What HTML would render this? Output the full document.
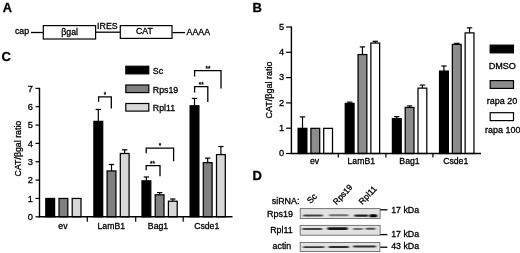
<!DOCTYPE html>
<html><head><meta charset="utf-8"><title>Figure</title>
<style>
html,body{margin:0;padding:0;background:#fff;}
body{width:520px;height:253px;overflow:hidden;}
svg{display:block;font-family:"Liberation Sans", Arial, sans-serif;filter:blur(0.4px);}
svg text{fill:#000;stroke:#000;stroke-width:0.3px;}
</style></head><body>
<svg width="520" height="253" viewBox="0 0 520 253">
<defs><filter id="bl" x="-20%" y="-150%" width="140%" height="400%"><feGaussianBlur stdDeviation="1 0.55"/></filter></defs>
<rect x="0" y="0" width="520" height="253" fill="#fff" stroke="none"/>
<text x="2.7" y="12.3" font-size="12.8" text-anchor="start" font-weight="bold" >A</text>
<text x="15" y="33.9" font-size="8.7" text-anchor="start" font-weight="normal" >cap</text>
<line x1="31" y1="32.5" x2="43" y2="32.5" stroke="#000" stroke-width="1.3"/>
<rect x="43.3" y="25.6" width="52.3" height="13.4" fill="#fff" stroke="#000" stroke-width="1.2"/>
<text x="69.6" y="35.4" font-size="8.7" text-anchor="middle" font-weight="normal" >βgal</text>
<text x="97.1" y="29.4" font-size="8.8" text-anchor="start" font-weight="normal" >IRES</text>
<line x1="95.6" y1="32.2" x2="120" y2="32.2" stroke="#000" stroke-width="1.3"/>
<rect x="120.3" y="25.6" width="51.7" height="12.8" fill="#fff" stroke="#000" stroke-width="1.2"/>
<text x="144.4" y="34.4" font-size="8.7" text-anchor="middle" font-weight="normal" >CAT</text>
<line x1="172.5" y1="32.6" x2="185" y2="32.6" stroke="#000" stroke-width="1.3"/>
<text x="186.6" y="34.6" font-size="8.8" text-anchor="start" font-weight="normal" >AAAA</text>
<text x="252.4" y="12.0" font-size="13" text-anchor="start" font-weight="bold" >B</text>
<text x="1.6" y="60.7" font-size="13" text-anchor="start" font-weight="bold" >C</text>
<text x="252.4" y="179.7" font-size="13" text-anchor="start" font-weight="bold" >D</text>
<rect x="45.8" y="198.45" width="8.8" height="18.35" fill="#000" stroke="#000" stroke-width="1.25"/>
<rect x="59.0" y="198.45" width="8.8" height="18.35" fill="#808080" stroke="#000" stroke-width="1.25"/>
<rect x="72.2" y="198.45" width="8.8" height="18.35" fill="#d8d8d8" stroke="#000" stroke-width="1.25"/>
<line x1="98.3" y1="121.38" x2="98.3" y2="109.45" stroke="#000" stroke-width="1.2"/>
<line x1="95.6" y1="109.45" x2="101.0" y2="109.45" stroke="#000" stroke-width="1.2"/>
<rect x="93.9" y="121.38" width="8.8" height="95.42" fill="#000" stroke="#000" stroke-width="1.25"/>
<line x1="111.5" y1="170.93" x2="111.5" y2="164.5" stroke="#000" stroke-width="1.2"/>
<line x1="108.8" y1="164.5" x2="114.2" y2="164.5" stroke="#000" stroke-width="1.2"/>
<rect x="107.1" y="170.93" width="8.8" height="45.88" fill="#808080" stroke="#000" stroke-width="1.25"/>
<line x1="124.7" y1="153.49" x2="124.7" y2="149.82" stroke="#000" stroke-width="1.2"/>
<line x1="122.0" y1="149.82" x2="127.4" y2="149.82" stroke="#000" stroke-width="1.2"/>
<rect x="120.3" y="153.49" width="8.8" height="63.31" fill="#d8d8d8" stroke="#000" stroke-width="1.25"/>
<line x1="146.4" y1="180.83" x2="146.4" y2="176.98" stroke="#000" stroke-width="1.2"/>
<line x1="143.7" y1="176.98" x2="149.1" y2="176.98" stroke="#000" stroke-width="1.2"/>
<rect x="142.0" y="180.83" width="8.8" height="35.97" fill="#000" stroke="#000" stroke-width="1.25"/>
<line x1="159.6" y1="194.78" x2="159.6" y2="192.58" stroke="#000" stroke-width="1.2"/>
<line x1="156.9" y1="192.58" x2="162.3" y2="192.58" stroke="#000" stroke-width="1.2"/>
<rect x="155.2" y="194.78" width="8.8" height="22.02" fill="#808080" stroke="#000" stroke-width="1.25"/>
<line x1="172.8" y1="201.2" x2="172.8" y2="199.0" stroke="#000" stroke-width="1.2"/>
<line x1="170.1" y1="199.0" x2="175.5" y2="199.0" stroke="#000" stroke-width="1.2"/>
<rect x="168.4" y="201.2" width="8.8" height="15.6" fill="#d8d8d8" stroke="#000" stroke-width="1.25"/>
<line x1="194.5" y1="105.78" x2="194.5" y2="98.44" stroke="#000" stroke-width="1.2"/>
<line x1="191.8" y1="98.44" x2="197.2" y2="98.44" stroke="#000" stroke-width="1.2"/>
<rect x="190.1" y="105.78" width="8.8" height="111.02" fill="#000" stroke="#000" stroke-width="1.25"/>
<line x1="207.7" y1="162.67" x2="207.7" y2="158.08" stroke="#000" stroke-width="1.2"/>
<line x1="205.0" y1="158.08" x2="210.4" y2="158.08" stroke="#000" stroke-width="1.2"/>
<rect x="203.3" y="162.67" width="8.8" height="54.13" fill="#808080" stroke="#000" stroke-width="1.25"/>
<line x1="220.9" y1="154.59" x2="220.9" y2="146.52" stroke="#000" stroke-width="1.2"/>
<line x1="218.2" y1="146.52" x2="223.6" y2="146.52" stroke="#000" stroke-width="1.2"/>
<rect x="216.5" y="154.59" width="8.8" height="62.21" fill="#d8d8d8" stroke="#000" stroke-width="1.25"/>
<line x1="39.5" y1="87.85" x2="39.5" y2="217.4" stroke="#000" stroke-width="1.4"/>
<line x1="38.9" y1="216.8" x2="232.5" y2="216.8" stroke="#000" stroke-width="1.4"/>
<line x1="35.5" y1="216.8" x2="39.5" y2="216.8" stroke="#000" stroke-width="1.2"/>
<text x="32.9" y="220.1" font-size="9.3" text-anchor="end" font-weight="normal" >0</text>
<line x1="35.5" y1="198.45" x2="39.5" y2="198.45" stroke="#000" stroke-width="1.2"/>
<text x="32.9" y="201.75" font-size="9.3" text-anchor="end" font-weight="normal" >1</text>
<line x1="35.5" y1="180.1" x2="39.5" y2="180.1" stroke="#000" stroke-width="1.2"/>
<text x="32.9" y="183.4" font-size="9.3" text-anchor="end" font-weight="normal" >2</text>
<line x1="35.5" y1="161.75" x2="39.5" y2="161.75" stroke="#000" stroke-width="1.2"/>
<text x="32.9" y="165.05" font-size="9.3" text-anchor="end" font-weight="normal" >3</text>
<line x1="35.5" y1="143.4" x2="39.5" y2="143.4" stroke="#000" stroke-width="1.2"/>
<text x="32.9" y="146.7" font-size="9.3" text-anchor="end" font-weight="normal" >4</text>
<line x1="35.5" y1="125.05" x2="39.5" y2="125.05" stroke="#000" stroke-width="1.2"/>
<text x="32.9" y="128.35" font-size="9.3" text-anchor="end" font-weight="normal" >5</text>
<line x1="35.5" y1="106.7" x2="39.5" y2="106.7" stroke="#000" stroke-width="1.2"/>
<text x="32.9" y="110.0" font-size="9.3" text-anchor="end" font-weight="normal" >6</text>
<line x1="35.5" y1="88.35" x2="39.5" y2="88.35" stroke="#000" stroke-width="1.2"/>
<text x="32.9" y="91.65" font-size="9.3" text-anchor="end" font-weight="normal" >7</text>
<line x1="87.3" y1="216.8" x2="87.3" y2="221.8" stroke="#000" stroke-width="1.2"/>
<line x1="135.7" y1="216.8" x2="135.7" y2="221.8" stroke="#000" stroke-width="1.2"/>
<line x1="183.2" y1="216.8" x2="183.2" y2="221.8" stroke="#000" stroke-width="1.2"/>
<text x="62.9" y="228.7" font-size="8.7" text-anchor="middle" font-weight="normal" >ev</text>
<text x="111.3" y="228.7" font-size="8.7" text-anchor="middle" font-weight="normal" >LamB1</text>
<text x="158" y="228.7" font-size="8.7" text-anchor="middle" font-weight="normal" >Bag1</text>
<text x="206.7" y="228.7" font-size="8.7" text-anchor="middle" font-weight="normal" >Csde1</text>
<text transform="translate(21.2,148.6) rotate(-90)" font-size="8.8" text-anchor="middle">CAT/βgal ratio</text>
<rect x="125.8" y="66.2" width="23" height="7.7" fill="#000" stroke="#000" stroke-width="1.1"/>
<text x="152.8" y="73.7" font-size="8.8" text-anchor="start" font-weight="normal" >Sc</text>
<rect x="125.8" y="85.0" width="23" height="7.6" fill="#808080" stroke="#000" stroke-width="1.2"/>
<text x="152.8" y="92.6" font-size="8.8" text-anchor="start" font-weight="normal" >Rps19</text>
<rect x="125.8" y="103.5" width="23" height="7.6" fill="#d8d8d8" stroke="#000" stroke-width="1.2"/>
<text x="152.8" y="111.1" font-size="8.8" text-anchor="start" font-weight="normal" >Rpl11</text>
<polyline points="98.6,101.7 98.6,96.9 111.3,96.9 111.3,108.5" fill="none" stroke="#000" stroke-width="1.3"/>
<text x="105" y="97.2" font-size="6.3" text-anchor="middle" font-weight="normal" >*</text>
<polyline points="194.6,76.4 194.6,70.7 221,70.7 221,88.6" fill="none" stroke="#000" stroke-width="1.3"/>
<text x="207.9" y="71.0" font-size="6.3" text-anchor="middle" font-weight="normal" >**</text>
<polyline points="194.6,92.4 194.6,86.6 207.8,86.6 207.8,102" fill="none" stroke="#000" stroke-width="1.3"/>
<text x="201.2" y="87.0" font-size="6.3" text-anchor="middle" font-weight="normal" >**</text>
<polyline points="146.2,153.2 146.2,148.1 173.6,148.1 173.6,161.3" fill="none" stroke="#000" stroke-width="1.3"/>
<text x="160" y="148.4" font-size="6.3" text-anchor="middle" font-weight="normal" >*</text>
<polyline points="146.2,170.3 146.2,165.7 160,165.7 160,176.3" fill="none" stroke="#000" stroke-width="1.3"/>
<text x="152.5" y="166.0" font-size="6.3" text-anchor="middle" font-weight="normal" >**</text>
<line x1="302.5" y1="128.35" x2="302.5" y2="116.9" stroke="#000" stroke-width="1.2"/>
<line x1="299.8" y1="116.9" x2="305.2" y2="116.9" stroke="#000" stroke-width="1.2"/>
<rect x="298.1" y="128.35" width="8.8" height="25.15" fill="#000" stroke="#000" stroke-width="1.25"/>
<rect x="310.9" y="128.35" width="8.8" height="25.15" fill="#8c8c8c" stroke="#000" stroke-width="1.25"/>
<rect x="323.7" y="128.35" width="8.8" height="25.15" fill="#fff" stroke="#000" stroke-width="1.25"/>
<line x1="349.65" y1="103.41" x2="349.65" y2="102.14" stroke="#000" stroke-width="1.2"/>
<line x1="346.95" y1="102.14" x2="352.35" y2="102.14" stroke="#000" stroke-width="1.2"/>
<rect x="345.25" y="103.41" width="8.8" height="50.09" fill="#000" stroke="#000" stroke-width="1.25"/>
<line x1="362.45" y1="54.55" x2="362.45" y2="46.91" stroke="#000" stroke-width="1.2"/>
<line x1="359.75" y1="46.91" x2="365.15" y2="46.91" stroke="#000" stroke-width="1.2"/>
<rect x="358.05" y="54.55" width="8.8" height="98.95" fill="#8c8c8c" stroke="#000" stroke-width="1.25"/>
<line x1="375.25" y1="43.09" x2="375.25" y2="41.31" stroke="#000" stroke-width="1.2"/>
<line x1="372.55" y1="41.31" x2="377.95" y2="41.31" stroke="#000" stroke-width="1.2"/>
<rect x="370.85" y="43.09" width="8.8" height="110.41" fill="#fff" stroke="#000" stroke-width="1.25"/>
<line x1="396.8" y1="118.68" x2="396.8" y2="116.64" stroke="#000" stroke-width="1.2"/>
<line x1="394.1" y1="116.64" x2="399.5" y2="116.64" stroke="#000" stroke-width="1.2"/>
<rect x="392.4" y="118.68" width="8.8" height="34.82" fill="#000" stroke="#000" stroke-width="1.25"/>
<line x1="409.6" y1="107.48" x2="409.6" y2="105.95" stroke="#000" stroke-width="1.2"/>
<line x1="406.9" y1="105.95" x2="412.3" y2="105.95" stroke="#000" stroke-width="1.2"/>
<rect x="405.2" y="107.48" width="8.8" height="46.02" fill="#8c8c8c" stroke="#000" stroke-width="1.25"/>
<line x1="422.4" y1="88.14" x2="422.4" y2="85.08" stroke="#000" stroke-width="1.2"/>
<line x1="419.7" y1="85.08" x2="425.1" y2="85.08" stroke="#000" stroke-width="1.2"/>
<rect x="418.0" y="88.14" width="8.8" height="65.36" fill="#fff" stroke="#000" stroke-width="1.25"/>
<line x1="443.95" y1="71.09" x2="443.95" y2="66.0" stroke="#000" stroke-width="1.2"/>
<line x1="441.25" y1="66.0" x2="446.65" y2="66.0" stroke="#000" stroke-width="1.2"/>
<rect x="439.55" y="71.09" width="8.8" height="82.41" fill="#000" stroke="#000" stroke-width="1.25"/>
<line x1="456.75" y1="44.36" x2="456.75" y2="43.35" stroke="#000" stroke-width="1.2"/>
<line x1="454.05" y1="43.35" x2="459.45" y2="43.35" stroke="#000" stroke-width="1.2"/>
<rect x="452.35" y="44.36" width="8.8" height="109.14" fill="#8c8c8c" stroke="#000" stroke-width="1.25"/>
<line x1="469.55" y1="32.91" x2="469.55" y2="27.82" stroke="#000" stroke-width="1.2"/>
<line x1="466.85" y1="27.82" x2="472.25" y2="27.82" stroke="#000" stroke-width="1.2"/>
<rect x="465.15" y="32.91" width="8.8" height="120.59" fill="#fff" stroke="#000" stroke-width="1.25"/>
<line x1="291.4" y1="26.5" x2="291.4" y2="154.1" stroke="#000" stroke-width="1.4"/>
<line x1="290.79999999999995" y1="153.5" x2="481" y2="153.5" stroke="#000" stroke-width="1.4"/>
<line x1="286.09999999999997" y1="153.5" x2="291.4" y2="153.5" stroke="#000" stroke-width="1.2"/>
<text x="284.2" y="156.2" font-size="9.3" text-anchor="end" font-weight="normal" >0</text>
<line x1="286.09999999999997" y1="128.2" x2="291.4" y2="128.2" stroke="#000" stroke-width="1.2"/>
<text x="284.2" y="130.9" font-size="9.3" text-anchor="end" font-weight="normal" >1</text>
<line x1="286.09999999999997" y1="102.9" x2="291.4" y2="102.9" stroke="#000" stroke-width="1.2"/>
<text x="284.2" y="105.6" font-size="9.3" text-anchor="end" font-weight="normal" >2</text>
<line x1="286.09999999999997" y1="77.6" x2="291.4" y2="77.6" stroke="#000" stroke-width="1.2"/>
<text x="284.2" y="80.3" font-size="9.3" text-anchor="end" font-weight="normal" >3</text>
<line x1="286.09999999999997" y1="52.3" x2="291.4" y2="52.3" stroke="#000" stroke-width="1.2"/>
<text x="284.2" y="55.0" font-size="9.3" text-anchor="end" font-weight="normal" >4</text>
<line x1="286.09999999999997" y1="27.0" x2="291.4" y2="27.0" stroke="#000" stroke-width="1.2"/>
<text x="284.2" y="29.7" font-size="9.3" text-anchor="end" font-weight="normal" >5</text>
<line x1="338.3" y1="153.5" x2="338.3" y2="157.4" stroke="#000" stroke-width="1.2"/>
<line x1="385.9" y1="153.5" x2="385.9" y2="157.4" stroke="#000" stroke-width="1.2"/>
<line x1="432.9" y1="153.5" x2="432.9" y2="157.4" stroke="#000" stroke-width="1.2"/>
<text x="314.5" y="164.4" font-size="8.7" text-anchor="middle" font-weight="normal" >ev</text>
<text x="361.3" y="164.4" font-size="8.7" text-anchor="middle" font-weight="normal" >LamB1</text>
<text x="409.5" y="164.4" font-size="8.7" text-anchor="middle" font-weight="normal" >Bag1</text>
<text x="455.7" y="164.4" font-size="8.7" text-anchor="middle" font-weight="normal" >Csde1</text>
<text transform="translate(271.6,90) rotate(-90)" font-size="9.0" text-anchor="middle">CAT/βgal ratio</text>
<rect x="490.1" y="45.1" width="23.4" height="7.8" fill="#000" stroke="#000" stroke-width="1.1"/>
<text x="502.3" y="68.7" font-size="9.1" text-anchor="middle" font-weight="normal" >DMSO</text>
<rect x="490.2" y="80.6" width="23.3" height="7.8" fill="#8c8c8c" stroke="#000" stroke-width="1.2"/>
<text x="502" y="103.7" font-size="9.0" text-anchor="middle" font-weight="normal" >rapa 20</text>
<rect x="490.2" y="112.7" width="23.3" height="7.9" fill="#fff" stroke="#000" stroke-width="1.2"/>
<text x="502.7" y="133.0" font-size="9.0" text-anchor="middle" font-weight="normal" >rapa 100</text>
<text x="271.8" y="204.0" font-size="8.9" text-anchor="start" font-weight="normal" >siRNA:</text>
<text transform="translate(310.6,204.0) rotate(-46)" font-size="8.6">Sc</text>
<text transform="translate(336.6,205.2) rotate(-47)" font-size="8.3">Rps19</text>
<text transform="translate(362.3,204.9) rotate(-46)" font-size="8.5">Rpl11</text>
<text x="266.9" y="216.6" font-size="9.0" text-anchor="start" font-weight="normal" >Rps19</text>
<text x="270.2" y="233.3" font-size="8.8" text-anchor="start" font-weight="normal" >Rpl11</text>
<text x="272.6" y="249.1" font-size="8.8" text-anchor="start" font-weight="normal" >actin</text>
<rect x="300.2" y="208.6" width="79.9" height="9.9" fill="#e2e2e2" stroke="#6a6a6a" stroke-width="0.9"/>
<rect x="303" y="214.45" width="20" height="2.1" rx="1.05" fill="#000" opacity="0.7" filter="url(#bl)"/>
<rect x="329" y="214.35" width="19.5" height="1.9" rx="0.95" fill="#000" opacity="0.5" filter="url(#bl)"/>
<rect x="354.3" y="214.4" width="14" height="2.4" rx="1.2" fill="#000" opacity="0.85" filter="url(#bl)"/>
<rect x="369.3" y="214.2" width="8" height="3.0" rx="1.5" fill="#000" opacity="0.98" filter="url(#bl)"/>
<rect x="300.2" y="225.4" width="79.9" height="9.8" fill="#e2e2e2" stroke="#6a6a6a" stroke-width="0.9"/>
<rect x="302.3" y="228.0" width="20" height="2.0" rx="1.0" fill="#000" opacity="0.7" filter="url(#bl)"/>
<rect x="327.3" y="227.3" width="20.5" height="2.6" rx="1.3" fill="#000" opacity="0.9" filter="url(#bl)"/>
<rect x="353" y="228.1" width="10" height="1.8" rx="0.9" fill="#000" opacity="0.5" filter="url(#bl)"/>
<rect x="365.5" y="227.8" width="10" height="2.0" rx="1.0" fill="#000" opacity="0.65" filter="url(#bl)"/>
<rect x="300.2" y="242.5" width="79.7" height="9.0" fill="#e2e2e2" stroke="#6a6a6a" stroke-width="0.9"/>
<rect x="303" y="246.15" width="21.5" height="1.9" rx="0.95" fill="#000" opacity="0.75" filter="url(#bl)"/>
<rect x="328.5" y="246.0" width="20.5" height="2.0" rx="1.0" fill="#000" opacity="0.8" filter="url(#bl)"/>
<rect x="353" y="245.6" width="23" height="2.0" rx="1.0" fill="#000" opacity="0.8" filter="url(#bl)"/>
<line x1="380.3" y1="209.8" x2="387.4" y2="209.8" stroke="#000" stroke-width="1.3"/>
<text x="391.2" y="213" font-size="8.8" text-anchor="start" font-weight="normal" >17 kDa</text>
<line x1="380.3" y1="234.6" x2="387.4" y2="234.6" stroke="#000" stroke-width="1.3"/>
<text x="391.2" y="237.4" font-size="8.8" text-anchor="start" font-weight="normal" >17 kDa</text>
<line x1="380.3" y1="247.2" x2="387.4" y2="247.2" stroke="#000" stroke-width="1.3"/>
<text x="391.2" y="249.3" font-size="8.8" text-anchor="start" font-weight="normal" >43 kDa</text>
</svg>
</body></html>
